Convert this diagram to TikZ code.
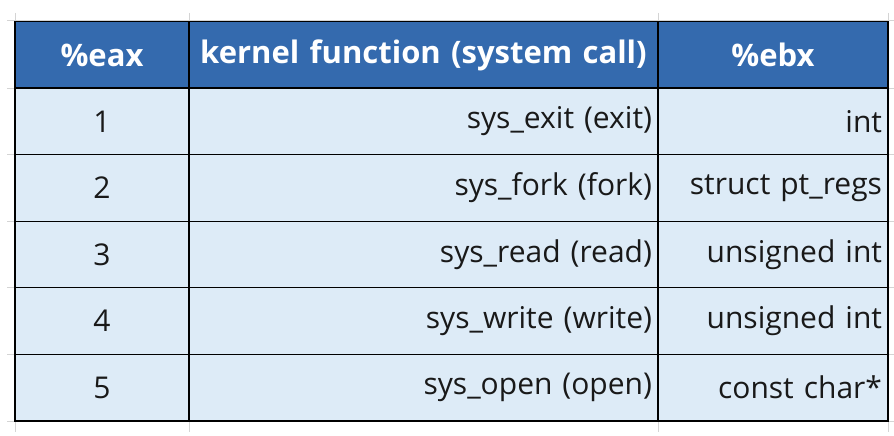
\documentclass[tikz,border=0pt]{standalone}
\usepackage{fontspec}
\setmainfont{Open Sans}
\usepackage{tikz}
\usetikzlibrary{positioning}

\definecolor{headblue}{RGB}{52,106,174}
\definecolor{rowblue}{RGB}{221,235,247}
\definecolor{gridgray}{RGB}{212,212,212}

\begin{document}
\begin{tikzpicture}[
	x = 1pt, y = -1pt,
	cellnode/.style={rectangle, draw=black, line width=1.3pt, fill=rowblue, minimum height=66.6pt, inner xsep=6pt, font=\fontsize{30}{36}\selectfont, text=black!90},
	headnode/.style={cellnode, fill=headblue, minimum height=67pt, text=white, font=\fontsize{31}{36}\selectfont\bfseries},
	numcol/.style={minimum width=174pt},
	funcol/.style={minimum width=469pt, text width=457pt, align=right},
	regcol/.style={minimum width=230pt, text width=218pt, align=right},
	]
	\useasboundingbox (0,0) rectangle (894,436);
	%Grid
	\foreach \gx in {15,189,658,888}
		\draw[gridgray, line width=1pt] (\gx,13) -- (\gx,432);
	\foreach \gy in {21,88,154.6,221.2,287.8,354.4,421}
		\draw[gridgray, line width=1pt] (7,\gy) -- (894,\gy);
	%Nodes
	\node[headnode, numcol]              (h1) at (102,55)   {\%eax};
	\node[headnode, funcol, align=center] (h2) at (423.5,55) {kernel function (system call)};
	\node[headnode, regcol, align=center] (h3) at (773,55)   {\%ebx};
	\node[cellnode, numcol] (n1) at (102,121.3) {1};
	\node[cellnode, funcol] (f1) at (423.5,121.3) {sys\_exit (exit)};
	\node[cellnode, regcol] (r1) at (773,121.3) {int};
	\node[cellnode, numcol] (n2) at (102,187.9) {2};
	\node[cellnode, funcol] (f2) at (423.5,187.9) {sys\_fork (fork)};
	\node[cellnode, regcol] (r2) at (773,187.9) {struct pt\_regs};
	\node[cellnode, numcol] (n3) at (102,254.5) {3};
	\node[cellnode, funcol] (f3) at (423.5,254.5) {sys\_read (read)};
	\node[cellnode, regcol] (r3) at (773,254.5) {unsigned int};
	\node[cellnode, numcol] (n4) at (102,321.1) {4};
	\node[cellnode, funcol] (f4) at (423.5,321.1) {sys\_write (write)};
	\node[cellnode, regcol] (r4) at (773,321.1) {unsigned int};
	\node[cellnode, numcol] (n5) at (102,387.7) {5};
	\node[cellnode, funcol] (f5) at (423.5,387.7) {sys\_open (open)};
	\node[cellnode, regcol] (r5) at (773,387.7) {const char*};
\end{tikzpicture}
\end{document}
